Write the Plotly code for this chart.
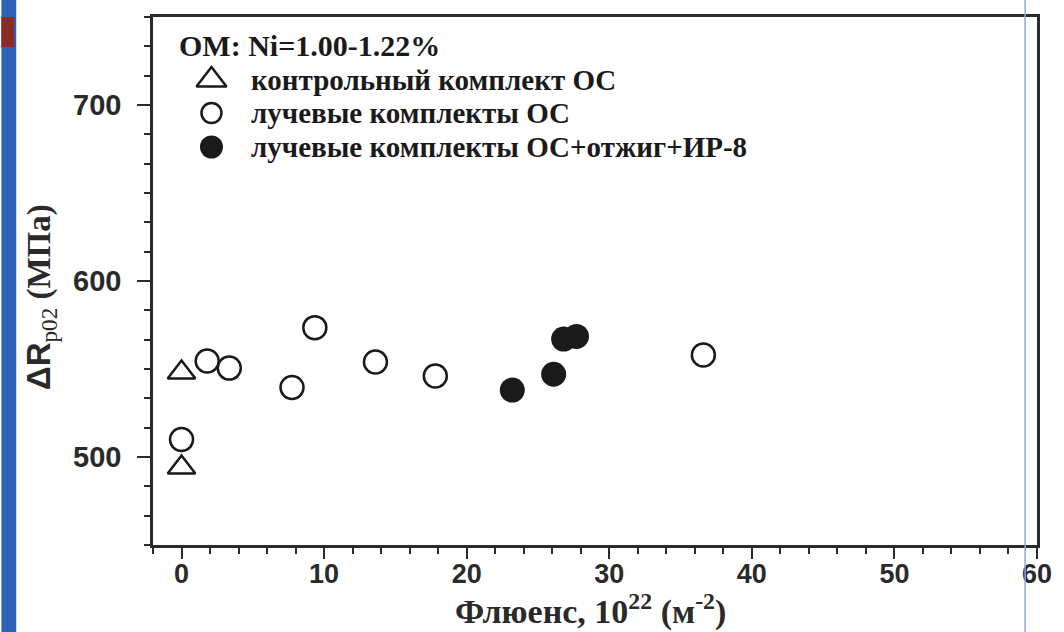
import plotly.graph_objects as go

# Fluence (10^22 m^-2) and yield-strength shift ΔRp0.2 (MPa)
control_fluence = [0.0, 0.0]
control_shift = [548, 494]

irradiated_fluence = [0.0, 1.8, 3.35, 7.75, 9.35, 13.6, 17.8, 36.6]
irradiated_shift = [510, 554.5, 550.5, 539.5, 573.5, 554, 546, 558]

annealed_fluence = [23.2, 26.1, 26.8, 27.7]
annealed_shift = [538, 547, 567, 568.5]

series_names = [
    "контрольный комплект ОС",
    "лучевые комплекты ОС",
    "лучевые комплекты ОС+отжиг+ИР-8",
]
group_title = "OM: Ni=1.00-1.22%"

x_ticks = [0, 10, 20, 30, 40, 50, 60]
y_ticks = [500, 600, 700]

SERIF = "Liberation Serif"
SANS = "Liberation Sans"
INK = "#1a1a1a"
AXIS = "#2b2b2b"

# plot-area pixel frame (used by the key overlay axes)
PX_L, PX_R, PX_T, PX_B = 153, 1045, 17, 545
W, H = 1064, 632

styles = [
    dict(symbol="triangle-up-open", size=24, color=INK, line=dict(width=2.5, color=INK)),
    dict(symbol="circle-open", size=23, color=INK, line=dict(width=2.5, color=INK)),
    dict(symbol="circle", size=25, color=INK, line=dict(width=0)),
]
key_styles = [
    dict(symbol="triangle-up-open", size=26, color=INK, line=dict(width=2.5, color=INK)),
    dict(symbol="circle-open", size=20, color=INK, line=dict(width=2.5, color=INK)),
    dict(symbol="circle", size=23, color=INK, line=dict(width=0)),
]

fig = go.Figure()
for xs, ys, name, st in zip(
    [control_fluence, irradiated_fluence, annealed_fluence],
    [control_shift, irradiated_shift, annealed_shift],
    series_names, styles,
):
    fig.add_trace(go.Scatter(x=xs, y=ys, mode="markers", name=name, marker=st, showlegend=False))

# legend block: key symbols on a pixel-scaled overlay axis, labels as annotations
key_x, key_rows, label_x = 212, [80, 113, 147], 250
for row, name, st in zip(key_rows, series_names, key_styles):
    fig.add_trace(go.Scatter(
        x=[key_x], y=[row], xaxis="x2", yaxis="y2", mode="markers",
        marker=st, showlegend=False, hoverinfo="skip",
    ))

axis_common = dict(
    showline=True, linecolor=AXIS, linewidth=2.5, mirror=True,
    showgrid=False, zeroline=False,
    ticks="outside", tickcolor=AXIS, tickwidth=2,
)

fig.update_layout(
    xaxis=dict(
        range=[-2, 60], tickvals=x_ticks, ticklen=11, ticklabelstandoff=-8,
        tickfont=dict(family=SANS, size=27, color="#2a2a2a", weight=700),
        minor=dict(dtick=2, tick0=0, ticks="outside", ticklen=6, tickwidth=2, tickcolor=AXIS),
        **axis_common,
    ),
    yaxis=dict(
        range=[450, 750], tickvals=y_ticks, ticklen=13, ticklabelstandoff=10,
        tickfont=dict(family=SANS, size=29, color="#2a2a2a", weight=700),
        minor=dict(dtick=100 / 6, tick0=500, ticks="outside", ticklen=6, tickwidth=2, tickcolor=AXIS),
        **axis_common,
    ),
    xaxis2=dict(overlaying="x", range=[PX_L, PX_R], visible=False, fixedrange=True),
    yaxis2=dict(overlaying="y", range=[PX_B, PX_T], visible=False, fixedrange=True),
    width=W, height=H,
    margin=dict(l=PX_L, r=W - PX_R, t=PX_T, b=H - PX_B),
    paper_bgcolor="white", plot_bgcolor="white",
    showlegend=False,
)

annotations = [
    dict(
        text=f"<b>{group_title}</b>", xref="x2", yref="y2",
        x=177, y=45, xanchor="left", yanchor="middle",
        showarrow=False, font=dict(family=SERIF, size=30, color=INK),
    ),
]
for row, name in zip(key_rows, series_names):
    annotations.append(dict(
        text=f"<b>{name}</b>", xref="x2", yref="y2",
        x=label_x, y=row, xanchor="left", yanchor="middle",
        showarrow=False, font=dict(family=SERIF, size=29, color=INK),
    ))
annotations += [
    dict(
        text="<b>Флюенс, 10<sup>22</sup> (м<sup>-2</sup>)</b>", xref="paper", yref="paper",
        x=(594 - PX_L) / (PX_R - PX_L), y=-(609 - PX_B) / (PX_B - PX_T),
        xanchor="center", yanchor="middle",
        showarrow=False, font=dict(family=SERIF, size=34, color="#2a2a2a"),
    ),
    dict(
        text=f"<span style='font-family:{SANS}'><b>ΔR</b></span><sub>p02</sub> <b>(МПа)</b>",
        xref="paper", yref="paper", textangle=-90,
        x=-(PX_L - 40) / (PX_R - PX_L), y=1 - (297 - PX_T) / (PX_B - PX_T),
        xanchor="center", yanchor="middle",
        showarrow=False, font=dict(family=SERIF, size=33, color="#2a2a2a"),
    ),
]

pw, ph = PX_R - PX_L, PX_B - PX_T
shapes = [
    dict(type="rect", xref="paper", yref="paper",
         x0=-PX_L / pw, x1=(15 - PX_L) / pw, y0=-(H - PX_B) / ph, y1=1 + PX_T / ph,
         fillcolor="#2d62b8", line=dict(width=0), layer="below"),
    dict(type="rect", xref="paper", yref="paper",
         x0=-PX_L / pw, x1=(13 - PX_L) / pw, y0=1 - (47 - PX_T) / ph, y1=1,
         fillcolor="#8a2b25", line=dict(width=0), layer="below"),
    dict(type="line", xref="paper", yref="paper",
         x0=(1033 - PX_L) / pw, x1=(1033 - PX_L) / pw, y0=-(H - PX_B) / ph, y1=1 + PX_T / ph,
         line=dict(color="#8ea6dc", width=1.5)),
]
fig.update_layout(annotations=annotations, shapes=shapes)

fig.write_html("out.html")
